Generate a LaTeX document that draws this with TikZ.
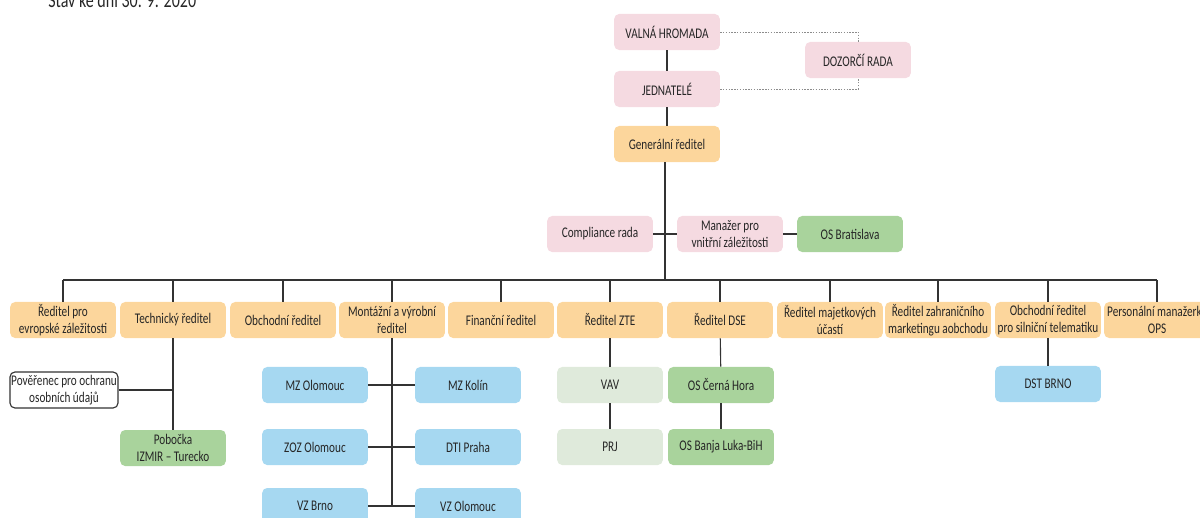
\documentclass[tikz,border=0pt]{standalone}
\usepackage{fontspec}
\setmainfont{Carlito}[FakeStretch=0.76]
\usetikzlibrary{positioning,calc}
\definecolor{pinkb}{HTML}{F5DAE1}
\definecolor{orngb}{HTML}{FCD69C}
\definecolor{grnb}{HTML}{A9D39C}
\definecolor{palegr}{HTML}{DFEADB}
\definecolor{blueb}{HTML}{A6D8F1}
\definecolor{linec}{HTML}{333333}
\definecolor{dotc}{HTML}{8C8C8C}
\definecolor{txt}{HTML}{262626}
\tikzset{
  unit/.style={rounded corners=3.5pt,minimum width=2.64cm,minimum height=0.9cm,
    align=center,inner xsep=0pt,inner ysep=1pt,font=\fontsize{10.5}{12}\selectfont,text=txt},
  pinkunit/.style={unit,fill=pinkb},
  orngunit/.style={unit,fill=orngb},
  grnunit/.style={unit,fill=grnb},
  paleunit/.style={unit,fill=palegr},
  blueunit/.style={unit,fill=blueb},
  whiteunit/.style={unit,draw=linec,line width=0.8pt,fill=white,minimum width=2.7cm},
  link/.style={linec,line width=0.8pt},
  dotlink/.style={dotc,line width=0.7pt,dash pattern=on 1pt off 1pt}
}
\begin{document}
\begin{tikzpicture}[x=0.025cm,y=-0.025cm]
  \useasboundingbox (0,0) rectangle (1200,518);
  \node[anchor=base west,inner sep=0pt,text=txt,font=\fontsize{15}{17}\selectfont] (title) at (48,8) {Stav ke dni 30. 9. 2020};
  % top of the tree
  \node[pinkunit] (valna) at (667,32) {VALNÁ HROMADA};
  \node[pinkunit] (dozor) at (858,60) {DOZORČÍ RADA};
  \node[pinkunit] (jedn) at (667,89) {JEDNATELÉ};
  \node[orngunit] (gen) at (667,144) {Generální ředitel};
  \node[pinkunit] (compl) at (600,234) {Compliance rada};
  \node[pinkunit] (manaz) at (730,234) {Manažer pro\\vnitřní záležitosti};
  \node[grnunit] (osbra) at (850,234) {OS Bratislava};
  \coordinate (bus) at (665,280);
  \draw[link] (valna) -- (jedn);
  \draw[link] (jedn) -- (gen);
  \draw[link] (gen.south -| bus) -- (bus);
  \draw[link] (compl.east) -- (compl.east -| bus);
  \draw[link] (manaz.west) -- (manaz.west -| bus);
  \draw[link] (manaz) -- (osbra);
  \draw[dotlink] (valna.east) -| (dozor.north);
  \draw[dotlink] (jedn.east) -| (dozor.south);
  % directors
  \foreach \i/\x/\lab in {1/63/{Ředitel pro\\evropské záležitosti},2/173/{Technický ředitel},
      3/283/{Obchodní ředitel},4/392/{Montážní a výrobní\\ředitel},5/501/{Finanční ředitel},
      6/610/{Ředitel ZTE},7/720/{Ředitel DSE},8/830/{Ředitel majetkových\\účastí},
      9/938/{Ředitel zahraničního\\marketingu aobchodu},10/1048/{Obchodní ředitel\\pro silniční telematiku},
      11/1157/{Personální manažerka\\OPS}}{
    \node[orngunit] (d\i) at (\x,320) {\lab};
    \draw[link] (d\i.north) -- (d\i.north |- bus);}
  \draw[link] (d1.north |- bus) -- (d11.north |- bus);
  % technical
  \node[whiteunit] (pover) at (64,390) {Pověřenec pro ochranu\\osobních údajů};
  \node[grnunit] (izmir) at (173,448) {Pobočka\\IZMIR -- Turecko};
  \draw[link] (d2) -- (izmir);
  \draw[link] (pover.east) -- (pover.east -| d2);
  % plants
  \foreach \n/\x/\y/\lab in {mzo/315/385/{MZ Olomouc},mzk/468/385/{MZ Kolín},
      zoz/315/447/{ZOZ Olomouc},dti/468/447/{DTI Praha},
      vzb/315/506/{VZ Brno},vzo/468/506/{VZ Olomouc}}
    \node[blueunit] (\n) at (\x,\y) {\lab};
  \draw[link] (d4.south) -- (d4.south |- vzb);
  \draw[link] (mzo) -- (mzk);
  \draw[link] (zoz) -- (dti);
  \draw[link] (vzb) -- (vzo);
  % ZTE, DSE, telematics
  \node[paleunit] (vav) at (610,385) {VAV};
  \node[paleunit] (prj) at (610,447) {PRJ};
  \draw[link] (d6) -- (vav);
  \draw[link] (vav) -- (prj);
  \node[grnunit] (oscer) at (721,385) {OS Černá Hora};
  \node[grnunit] (osban) at (721,447) {OS Banja Luka-BiH};
  \draw[link] (d7) -- (oscer);
  \draw[link] (oscer) -- (osban);
  \node[blueunit] (dst) at (1048,384) {DST BRNO};
  \draw[link] (d10) -- (dst);
\end{tikzpicture}
\end{document}
